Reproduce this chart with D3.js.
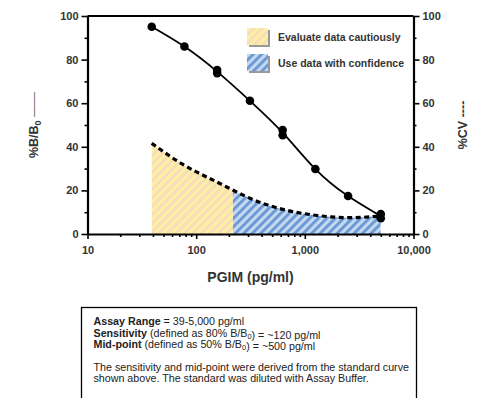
<!DOCTYPE html>
<html><head><meta charset="utf-8">
<script src="https://cdn.jsdelivr.net/npm/d3@7"></script>
<style>
body{margin:0;background:#fff;}
svg{display:block;font-family:"Liberation Sans",Arial,sans-serif;}
</style></head>
<body>
<svg id="c" width="487" height="398"></svg>
<script>
// ---- data ----
const stdConc = [39, 78, 156, 156, 312.5, 625, 625, 1250, 2500, 5000, 5000];
const stdBB0  = [95.1, 86.0, 75.2, 73.8, 61.1, 47.7, 45.3, 29.8, 17.4, 9.2, 7.2];
const curveConc = [39, 78, 156, 312.5, 625, 1250, 2500, 5000];
const curveBB0  = [95.1, 86.0, 74.5, 61.1, 46.5, 29.8, 17.4, 8.2];
const cvConc = [39, 78, 156, 312.5, 625, 1250, 2500, 5000];
const cvValues = [41.6, 31.5, 23.8, 16.4, 11.3, 8.6, 7.5, 8.2];
const confidenceFrom = 218; // pg/ml, where %CV falls to ~20%
const xTickValues = [10, 100, 1000, 10000];
const xTickLabels = ["10", "100", "1,000", "10,000"];
const yTickValues = [0, 20, 40, 60, 80, 100];
const legendLabels = ["Evaluate data cautiously", "Use data with confidence"];
const infoLines = [
  [{b:"Assay Range"}, {t:" = 39-5,000 pg/ml"}],
  [{b:"Sensitivity"}, {t:" (defined as 80% B/B"}, {s:"0"}, {t:") =  ~120 pg/ml"}],
  [{b:"Mid-point"}, {t:" (defined as 50% B/B"}, {s:"0"}, {t:") =  ~500 pg/ml"}],
  [],
  [{t:"The sensitivity and mid-point were derived from the standard curve"}],
  [{t:"shown above. The standard was diluted with Assay Buffer."}]
];

// ---- layout ----
const svg = d3.select("#c");
const L = 87.5, R = 413.5, T = 16, B = 234;
const x = d3.scaleLog().domain([10, 10000]).range([L, R]);
const y = d3.scaleLinear().domain([0, 100]).range([B, T]);
const textCol = "#333";

// patterns
const defs = svg.append("defs");
function hatch(id, bg, fg){
  const p = defs.append("pattern").attr("id", id).attr("patternUnits","userSpaceOnUse")
    .attr("width", 6).attr("height", 6).attr("patternTransform","rotate(45)");
  p.append("rect").attr("width",6).attr("height",6).attr("fill",bg);
  p.append("rect").attr("width",2.8).attr("height",6).attr("fill",fg);
}
hatch("hy", "#fcf0a2", "#f9dcbc");
hatch("hb", "#c3d9f1", "#6897d3");

defs.append("clipPath").attr("id","cy").append("rect")
  .attr("x", x(39)-1).attr("y", 0).attr("width", x(confidenceFrom)-x(39)+1).attr("height", B);
defs.append("clipPath").attr("id","cb").append("rect")
  .attr("x", x(confidenceFrom)).attr("y", 0).attr("width", x(5000)-x(confidenceFrom)).attr("height", B);

const cvData = cvConc.map((c,i)=>({c, v:cvValues[i]}));
const area = d3.area().x(d=>x(d.c)).y0(y(0)).y1(d=>y(d.v)).curve(d3.curveNatural);
svg.append("path").datum(cvData).attr("d", area).attr("fill","url(#hy)").attr("clip-path","url(#cy)");
svg.append("path").datum(cvData).attr("d", area).attr("fill","url(#hb)").attr("clip-path","url(#cb)");

// CV dashed line
const line = d3.line().x(d=>x(d.c)).y(d=>y(d.v)).curve(d3.curveNatural);
svg.append("path").datum(cvData).attr("d", line).attr("fill","none")
  .attr("stroke","#000").attr("stroke-width",3.2).attr("stroke-dasharray","5,3.5");

// standard curve
const stdCurve = curveConc.map((c,i)=>({c, v:curveBB0[i]}));
svg.append("path").datum(stdCurve).attr("d", line).attr("fill","none")
  .attr("stroke","#000").attr("stroke-width",1.8);
svg.append("g").selectAll("circle").data(stdConc.map((c,i)=>({c, v:stdBB0[i]})))
  .join("circle").attr("cx",d=>x(d.c)).attr("cy",d=>y(d.v)).attr("r",4.3).attr("fill","#000");

// axes
const axStyle = g => {
  g.selectAll("path.domain").attr("stroke","#000").attr("stroke-width",2.2);
  g.selectAll(".tick line").attr("stroke","#000").attr("stroke-width",1.6);
  g.selectAll("text").attr("fill",textCol).attr("font-size",11).attr("font-weight","bold")
    .attr("font-family","'Liberation Sans',Arial,sans-serif");
};
// x minor
const xMinor = [];
[10,100,1000].forEach(d=>{for(let k=2;k<=9;k++) xMinor.push(d*k);});
svg.append("g").attr("transform",`translate(0,${B})`)
  .call(d3.axisBottom(x).tickValues(xMinor).tickSize(3).tickFormat(""))
  .call(g=>{g.select(".domain").remove(); g.selectAll(".tick line").attr("stroke","#000").attr("stroke-width",1.6);});
svg.append("g").attr("transform",`translate(0,${B})`)
  .call(d3.axisBottom(x).tickValues(xTickValues).tickSize(5).tickSizeOuter(0).tickPadding(7)
    .tickFormat((d,i)=>xTickLabels[i]))
  .call(axStyle);

const yMinor = [10,30,50,70,90];
[["L",L],["R",R]].forEach(([side,pos])=>{
  const ax = side==="L" ? d3.axisLeft : d3.axisRight;
  svg.append("g").attr("transform",`translate(${pos},0)`)
    .call(ax(y).tickValues(yMinor).tickSize(3).tickFormat(""))
    .call(g=>{g.select(".domain").remove(); g.selectAll(".tick line").attr("stroke","#000").attr("stroke-width",1.6);});
  svg.append("g").attr("transform",`translate(${pos},0)`)
    .call(ax(y).tickValues(yTickValues).tickSize(6).tickSizeOuter(0).tickPadding(3))
    .call(axStyle);
});
// top border
svg.append("line").attr("x1",L).attr("x2",R).attr("y1",T).attr("y2",T)
  .attr("stroke","#000").attr("stroke-width",2.2);

// axis titles
svg.append("text").attr("x",(L+R)/2).attr("y",282).attr("text-anchor","middle")
  .attr("font-size",14).attr("font-weight","bold").attr("fill",textCol).text("PGIM (pg/ml)");
const yl = svg.append("text").attr("transform","translate(38,125) rotate(-90)").attr("text-anchor","middle")
  .attr("font-size",12.5).attr("font-weight","bold").attr("fill",textCol);
yl.append("tspan").text("%B/B");
yl.append("tspan").attr("font-size",9).attr("dy",3).text("0");
yl.append("tspan").attr("dy",-3).attr("font-weight","normal").attr("fill","#666").text(" ——");
const yr = svg.append("text").attr("transform","translate(467,125) rotate(-90)").attr("text-anchor","middle")
  .attr("font-size",12.5).attr("font-weight","bold").attr("fill",textCol);
yr.append("tspan").text("%CV ----");

// legend
legendLabels.forEach((lab,i)=>{
  const ly = 28 + i*26;
  svg.append("rect").attr("x",249).attr("y",ly+2).attr("width",21).attr("height",17).attr("fill","#999");
  svg.append("rect").attr("x",247).attr("y",ly).attr("width",21).attr("height",17)
    .attr("fill", i===0 ? "url(#hy)" : "url(#hb)");
  svg.append("text").attr("x",278).attr("y",ly+13).attr("font-size",10.5).attr("font-weight","bold")
    .attr("fill",textCol).text(lab);
});

// info box
svg.append("rect").attr("x",81.5).attr("y",307.5).attr("width",335).attr("height",120)
  .attr("fill","#fff").attr("stroke","#000").attr("stroke-width",1.3);
const lineYs = [325, 336.5, 348, 0, 370.5, 382];
infoLines.forEach((parts,i)=>{
  if(!parts.length) return;
  const t = svg.append("text").attr("x",93.5).attr("y",lineYs[i]).attr("font-size",10.7).attr("fill","#222");
  parts.forEach(p=>{
    if(p.b) t.append("tspan").attr("font-weight","bold").text(p.b);
    else if(p.s){ t.append("tspan").attr("font-size",7.5).attr("dy",2).text(p.s); t.append("tspan").attr("dy",-2).text(""); }
    else t.append("tspan").text(p.t);
  });
});
</script>
</body></html>
